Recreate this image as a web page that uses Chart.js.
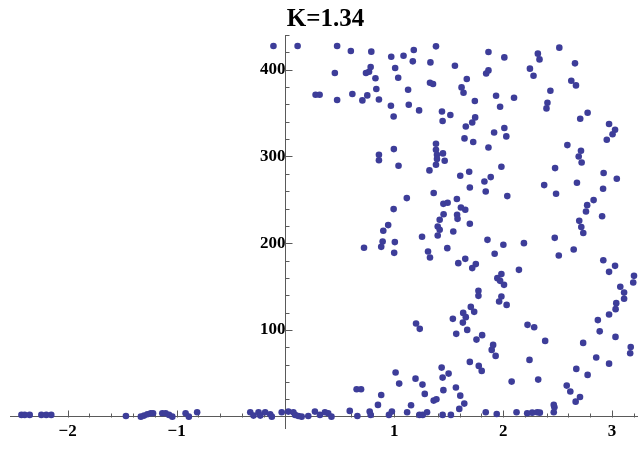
<!DOCTYPE html>
<html>
<head>
<meta charset="utf-8">
<script src="https://cdn.jsdelivr.net/npm/chart.js@4.4.1/dist/chart.umd.min.js"></script>
<style>
  html, body { margin: 0; padding: 0; background: #ffffff; }
  canvas { display: block; }
</style>
</head>
<body>
<canvas id="c" width="641" height="449"></canvas>
<script>
// ---- data ----
const titleText = 'K=1.34';
const xTickValues = [-2, -1, 1, 2, 3];
const yTickValues = [100, 200, 300, 400];

// scattered points of the orbit
const cloudX = [-0.110,0.112,0.475,0.601,0.789,0.454,0.740,0.768,0.783,0.827,
0.835,0.859,0.277,0.314,0.475,0.615,0.707,0.752,0.859,0.859,
1.383,1.179,0.972,1.085,1.170,1.332,1.557,1.865,2.011,1.008,
1.036,1.328,1.356,1.666,1.865,1.844,1.127,1.618,1.636,1.935,
1.740,0.969,1.133,1.228,1.972,0.994,1.438,1.515,1.444,1.743,
1.716,1.657,2.011,1.917,2.029,1.645,1.725,1.865,0.996,1.383,
1.383,1.392,1.392,1.383,1.447,1.463,1.039,1.323,1.606,1.688,
1.984,1.886,1.828,1.694,1.840,2.038,1.362,1.115,1.451,1.490,
1.575,1.612,1.652,0.994,1.453,1.577,1.581,1.417,1.694,0.944,
0.899,1.399,1.417,1.399,1.542,1.255,0.893,0.880,1.005,0.999,
1.310,1.328,1.487,1.856,2.002,1.922,1.652,1.588,1.749,1.716,
1.984,1.947,1.972,2.008,1.773,1.773,1.984,1.963,2.032,1.703,
1.734,1.633,1.657,1.538,1.630,1.200,1.234,1.569,1.670,1.807,
1.755,1.908,1.895,1.931,1.694,1.776,1.803,1.435,1.444,1.499,
1.012,1.045,1.195,1.259,1.280,1.451,1.566,1.606,1.643,1.362,
1.387,0.880,1.154,0.722,0.654,0.695,0.850,2.516,2.319,2.334,
2.660,2.246,2.279,2.626,2.669,2.434,2.100,2.407,2.398,2.776,
2.708,2.973,3.028,3.005,2.952,2.590,2.715,2.694,2.721,2.477,
2.923,3.044,2.377,2.678,2.486,2.918,2.831,2.772,2.761,2.909,
2.699,2.718,2.736,2.191,2.474,2.648,2.511,2.920,3.028,2.973,
2.145,3.202,3.195,3.076,3.111,3.111,3.039,3.033,2.973,2.870,
2.887,3.032,2.224,2.285,2.386,2.735,3.172,3.167,2.855,2.973,
2.242,2.672,2.776,2.078,2.322,2.584,2.617,2.706,2.666,2.465];
const cloudY = [427.3,427.3,427.3,421.6,420.8,396.2,396.2,397.7,403.1,390.2,
377.7,365.6,371.2,371.2,365.0,372.0,364.6,370.4,302.0,295.6,
426.9,422.7,415.0,416.1,409.6,408.4,404.6,420.4,414.2,402.0,
390.8,385.0,383.5,389.3,399.2,395.7,376.9,379.6,373.5,370.0,
363.9,358.5,359.6,353.1,357.3,346.1,351.9,347.8,340.8,345.0,
339.2,334.6,332.8,327.7,323.1,320.8,316.6,310.4,308.5,314.6,
307.7,302.0,297.0,290.4,303.5,295.0,289.3,283.9,277.7,282.4,
288.1,276.2,271.2,264.2,259.6,254.3,257.8,252.0,245.4,246.6,
250.9,241.2,238.5,239.3,233.3,232.8,228.1,227.0,222.4,220.9,
214.3,219.3,215.5,208.9,213.5,207.4,202.0,195.8,201.3,188.9,
190.4,183.5,194.3,203.9,198.2,187.8,182.0,177.0,175.9,171.3,
164.4,159.7,156.6,152.0,145.1,139.3,138.5,132.8,128.9,126.6,
120.9,119.7,114.8,112.8,108.5,107.4,101.3,95.5,100.1,94.0,
88.9,82.8,77.0,70.1,63.2,58.6,52.8,56.6,45.1,49.7,
50.9,38.2,43.9,37.0,26.3,30.6,33.6,24.3,15.1,18.6,
20.2,25.1,13.3,194.7,31.7,31.7,13.6,425.4,418.5,411.9,
407.3,401.2,393.1,387.3,381.9,375.8,367.7,361.9,355.4,350.4,
343.5,337.4,330.8,325.6,319.3,313.1,306.6,300.0,293.1,286.6,
280.9,274.3,267.0,269.7,257.0,262.7,249.7,243.9,236.6,231.0,
225.8,218.6,211.7,200.1,206.2,192.7,185.8,180.3,173.9,167.0,
169.3,162.4,154.7,149.9,143.1,135.9,130.9,124.0,117.8,111.4,
98.4,92.0,105.9,103.2,87.4,85.1,80.3,73.2,68.2,61.2,
65.5,55.1,48.2,40.5,42.8,35.9,29.0,22.8,17.4,13.6];

// points lying along the horizontal axis
const axisX = [-2.425,-2.395,-2.349,-2.242,-2.197,-2.151,-1.465,-1.328,-1.298,-1.268,
-1.237,-1.216,-1.131,-1.100,-1.069,-1.039,-0.917,-0.887,-0.811,-0.323,
-0.293,-0.247,-0.231,-0.186,-0.140,-0.125,-0.034,0.027,0.073,0.089,
0.119,0.149,0.210,0.271,0.317,0.363,0.393,0.423,0.591,0.661,
0.774,0.783,0.951,0.978,1.118,1.231,1.261,1.301,1.444,1.520,
1.597,1.840,1.941,2.123,2.221,2.267,2.313,2.337,2.471,2.465];
const axisY = [2.1,2.1,2.1,2.1,2.1,2.1,0.9,0.1,1.3,2.9,
4.0,4.0,4.0,4.0,2.1,0.1,4.0,0.1,5.2,5.2,
1.3,5.2,1.3,5.2,2.9,0.1,5.2,5.9,5.2,2.1,
0.9,0.1,0.9,5.9,2.1,5.2,4.0,0.1,6.7,0.9,
5.9,2.1,2.1,5.9,5.2,2.1,2.1,5.2,2.1,2.1,
9.0,5.2,3.2,5.2,4.0,4.7,5.2,4.7,11.0,5.2];

// ---- styling ----
const pointColor = 'rgb(61,61,153)';
const axisColor = '#5a5a5a';
const labelFont = { family: "'Liberation Serif', 'DejaVu Serif', serif", size: 17, weight: 'bold' };

const toPoints = (xs, ys) => xs.map((x, i) => ({ x: x, y: ys[i] }));

const tickMarks = {
  id: 'tickMarks',
  beforeDatasetsDraw(chart) {
    const { ctx, scales: { x, y } } = chart;
    const x0 = Math.round(x.getPixelForValue(0)) + 0.5;
    const y0 = Math.round(y.getPixelForValue(0)) + 0.5;
    ctx.save();
    ctx.strokeStyle = axisColor;
    ctx.lineWidth = 1;
    ctx.beginPath();
    for (let i = Math.ceil(x.min * 5); i <= Math.floor(x.max * 5); i++) {
      if (i === 0) continue;
      const px = Math.round(x.getPixelForValue(i / 5)) + 0.5;
      const len = i % 5 === 0 ? 7 : 4;
      ctx.moveTo(px, y0); ctx.lineTo(px, y0 - len);
    }
    for (let j = 1; j * 20 <= y.max; j++) {
      const py = Math.round(y.getPixelForValue(j * 20)) + 0.5;
      const len = j % 5 === 0 ? 7 : 4;
      ctx.moveTo(x0, py); ctx.lineTo(x0 + len, py);
    }
    ctx.stroke();
    ctx.restore();
  }
};

new Chart(document.getElementById('c'), {
  type: 'scatter',
  data: {
    datasets: [
      { data: toPoints(cloudX, cloudY), backgroundColor: pointColor, borderWidth: 0, pointRadius: 3.3, pointHoverRadius: 3.3, clip: false },
      { data: toPoints(axisX, axisY), backgroundColor: pointColor, borderWidth: 0, pointRadius: 3.3, pointHoverRadius: 3.3, clip: false }
    ]
  },
  options: {
    responsive: false,
    animation: false,
    layout: { padding: { left: 10, right: 0, top: 0, bottom: 21 } },
    plugins: {
      legend: { display: false },
      tooltip: { enabled: false },
      title: {
        display: true,
        text: titleText,
        color: '#000',
        font: { family: "'Liberation Serif', 'DejaVu Serif', serif", size: 25, weight: 'bold' },
        padding: { top: 5, bottom: 0 }
      }
    },
    scales: {
      x: {
        type: 'linear',
        min: -2.53,
        max: 3.236,
        position: { y: 0 },
        grid: { display: false, drawTicks: false },
        border: { display: true, color: axisColor, width: 1 },
        afterBuildTicks: (s) => { s.ticks = xTickValues.map(v => ({ value: v })); },
        ticks: {
          autoSkip: false, maxRotation: 0, padding: 5, color: '#000', font: labelFont,
          callback: (v) => String(v).replace('-', '\u2212')
        }
      },
      y: {
        type: 'linear',
        min: -13,
        max: 440,
        position: { x: 0 },
        grid: { display: false, drawTicks: false },
        border: { display: true, color: axisColor, width: 1 },
        afterBuildTicks: (s) => { s.ticks = yTickValues.map(v => ({ value: v })); },
        ticks: { autoSkip: false, padding: 8, color: '#000', font: labelFont }
      }
    }
  },
  plugins: [tickMarks]
});
</script>
</body>
</html>
